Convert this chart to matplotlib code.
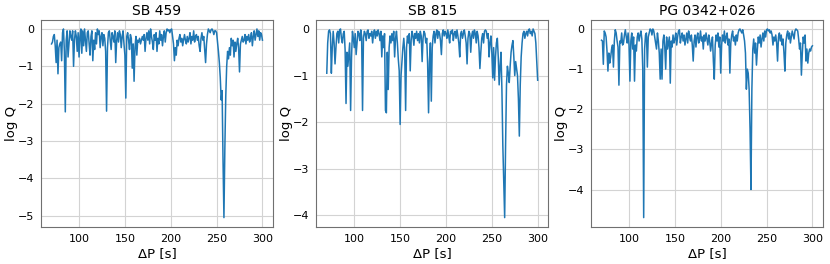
import matplotlib

matplotlib.use("Agg")
import matplotlib.pyplot as plt
from matplotlib.ticker import MultipleLocator
import numpy as np

# period spacing grid (s), one sample per second
delta_p = np.arange(70, 301)

titles = ["SB 459", "SB 815", "PG 0342+026"]

logq_sb459 = [
    -0.40, -0.35, -0.20, -0.15, -0.45, -0.90, -0.30, -1.20, -0.50, -0.40,
    -0.35, -0.85, -0.10, 0.00, -0.60, -2.22, -0.30, -0.05, -0.75, -0.40,
    -0.05, -0.20, -0.30, -0.05, -1.00, -0.30, -0.05, -0.20, -0.60, -0.10,
    -0.75, -0.20, 0.00, -0.65, -0.05, -0.45, 0.00, -0.30, -0.60, -0.10,
    -0.05, -0.40, -0.70, -0.20, -0.05, -0.85, -0.30, -0.55, -0.10, -0.40,
    0.00, -0.15, -0.05, -0.50, -0.20, -0.10, -0.45, -0.15, -0.25, -0.60,
    -2.20, -0.50, -0.10, -0.05, -0.30, -0.55, -0.10, -0.20, -0.35, -0.05,
    -0.90, -0.30, -0.10, -0.35, -0.05, -0.15, -0.50, -0.20, -0.05, -0.40,
    -0.70, -1.85, -0.20, -0.10, -0.30, -0.55, -0.15, -0.25, -1.05, -0.40,
    -1.40, -0.50, -0.20, -0.70, -0.30, -0.35, -0.25, -0.40, -0.30, -0.20,
    -0.30, -0.15, -0.60, -0.25, -0.10, -0.30, -0.05, -0.40, 0.00, -0.20,
    -0.35, -0.55, -0.15, -0.30, -0.10, -0.60, -0.25, -0.40, -0.05, -0.30,
    -0.15, -0.45, -0.20, -0.05, -0.35, -0.10, 0.00, -0.05, -0.02, -0.10,
    -0.02, 0.00, -0.20, -0.40, -0.85, -0.50, -0.70, -0.30, -0.45, -0.25,
    -0.15, -0.35, -0.25, -0.45, -0.30, -0.15, -0.30, -0.40, -0.20, -0.35,
    -0.25, -0.10, -0.40, -0.20, -0.30, -0.05, -0.35, -0.20, -0.15, -0.30,
    -0.20, -0.45, -0.60, -0.25, -0.10, -0.30, -0.20, -0.55, -0.90, -0.40,
    -0.15, 0.00, -0.05, -0.10, -0.02, 0.00, -0.05, -0.15, -0.05, -0.05,
    -0.10, -0.35, -0.60, -0.90, -1.30, -1.90, -1.65, -3.50, -5.05, -3.20,
    -1.80, -1.00, -0.60, -0.80, -0.50, -0.70, -0.25, -0.45, -0.30, -0.75,
    -0.35, -0.60, -0.40, -0.25, -0.50, -1.15, -0.40, -0.30, -0.20, -0.35,
    -0.30, -0.15, -0.40, -0.20, -0.30, -0.15, -0.35, -0.25, -0.10, -0.45,
    -0.20, -0.05, -0.30, -0.15, 0.00, -0.20, -0.05, -0.30, -0.10, -0.15,
    -0.30,
]

logq_sb815 = [
    -0.95, -0.30, -0.05, -0.02, -0.10, -0.95, -0.40, -0.05, -0.30, -0.75,
    -0.40, -0.10, -0.05, -0.30, -0.02, 0.00, -0.20, -0.30, -0.10, -0.05,
    -0.45, -1.60, -0.50, -0.80, -0.55, -0.30, -1.75, -0.60, -0.05, -0.20,
    -0.40, -0.10, -0.55, -0.30, -0.05, -0.10, -0.25, -0.02, -0.15, -1.75,
    -0.20, -0.05, -0.10, -0.25, -0.05, -0.02, -0.20, -0.10, -0.15, -0.05,
    -0.30, -0.10, -0.02, -0.20, -0.05, -0.15, -0.02, -0.10, -0.25, -0.05,
    -0.60, -0.15, -0.40, -0.10, -1.75, -1.80, -0.50, -1.30, -0.40, -0.15,
    -0.30, -0.10, -0.25, -0.05, -0.60, -0.20, -0.05, -0.30, -0.65, -0.90,
    -2.05, -1.00, -0.70, -0.40, -0.20, -0.50, -1.75, -0.40, -0.15, -0.30,
    -0.10, -0.90, -0.25, -0.05, -0.15, -0.35, -0.10, -0.20, -0.05, -0.25,
    -0.10, -0.30, -0.05, -0.15, -0.70, -0.20, -0.05, -0.10, -0.30, -0.20,
    -0.75, -1.80, -0.70, -0.30, -1.55, -0.40, -0.15, -0.05, -0.30, -0.10,
    -0.02, -0.20, -0.05, -0.10, -0.25, -0.55, -0.10, -0.02, -0.15, -0.05,
    -0.10, -0.20, -0.02, -0.15, -0.30, -0.05, -0.10, -0.02, -0.25, -0.10,
    -0.05, -0.20, -0.02, -0.15, -0.30, -0.60, -0.10, -0.05, -0.20, -0.10,
    -0.02, -0.15, -0.30, -0.75, -0.20, -0.05, -0.10, -0.50, -0.15, -0.05,
    -0.20, -0.02, -0.10, -0.30, -0.05, -0.15, -0.40, -0.85, -0.50, -0.20,
    -0.10, -0.30, -0.05, -0.02, -0.05, -0.20, -0.10, -0.60, -0.30, -0.15,
    -0.50, -1.05, -0.40, -1.10, -0.60, -0.30, -0.20, -0.60, -1.20, -0.80,
    -0.50, -1.30, -2.50, -3.30, -4.05, -2.50, -1.20, -0.80, -0.95, -1.15,
    -0.80, -0.50, -0.35, -0.25, -0.60, -1.00, -0.70, -0.85, -1.00, -1.50,
    -2.30, -1.20, -0.60, -0.30, -0.10, -0.05, -0.20, -0.10, -0.05, -0.15,
    -0.02, 0.00, -0.10, -0.05, -0.15, 0.00, -0.05, -0.10, -0.30, -0.70,
    -1.10,
]

logq_pg0342 = [
    -0.28, -0.30, -0.88, -0.05, -0.10, -0.20, -0.55, -1.05, -0.60, -0.85,
    -0.70, -0.50, -0.40, -0.95, -0.30, -0.02, -0.10, -0.30, -0.45, -1.40,
    -0.30, -0.35, -0.10, -0.40, -0.35, -0.15, -0.02, -0.20, -0.35, -0.10,
    -0.40, -1.30, -0.30, -0.10, -0.50, -0.20, -1.30, -0.40, -0.55, -0.20,
    -0.10, -0.30, -0.15, -0.05, -0.25, -1.00, -4.70, -0.50, -0.15, -0.10,
    -0.95, -0.20, -0.10, 0.00, -0.02, -0.15, 0.00, -0.05, -0.20, -0.35,
    -0.50, -0.10, -0.30, -0.60, -1.25, -0.50, -1.25, -0.30, -0.15, -0.45,
    -1.00, -0.20, -0.50, -0.35, -0.20, -1.35, -0.30, -0.45, -0.15, -0.35,
    -0.25, -0.10, -0.40, -0.20, -0.05, -0.02, -0.35, -0.20, -0.10, -0.30,
    -0.15, -0.40, -0.25, -0.10, -0.35, -0.05, -0.20, -0.30, -0.15, -0.40,
    -0.80, -0.30, -0.15, -0.45, -0.20, -0.10, -0.35, -0.25, -0.05, -0.30,
    -0.20, -0.50, -0.15, -0.30, -0.10, -0.25, -0.40, -0.15, -0.30, -0.55,
    -0.35, -0.20, -0.80, -1.25, -0.40, -0.15, -0.30, -0.10, -0.45, -0.20,
    -1.10, -0.40, -0.15, -0.30, -0.05, -0.35, -0.20, -0.10, -0.40, -0.25,
    -1.10, -0.35, -0.15, -0.05, -0.30, -0.20, -0.40, -0.15, -0.30, -0.10,
    -0.02, 0.00, -0.05, -0.10, -0.02, -0.15, -0.30, -0.60, -1.50, -1.00,
    -1.10, -1.50, -2.50, -4.00, -1.50, -0.50, -0.25, -0.60, -0.35, -0.90,
    -0.50, -0.20, -0.35, -0.15, -0.45, -0.25, -0.10, -0.30, -0.05, -0.20,
    -0.02, 0.00, -0.05, -0.02, -0.10, -0.05, -0.15, -0.40, -0.20, -0.30,
    -0.15, -0.35, -0.80, -0.20, -0.10, -0.30, -0.15, -0.40, -0.25, -0.60,
    -1.05, -0.35, -0.15, -0.05, -0.25, -0.10, -0.35, -0.20, -0.05, -0.15,
    -0.25, -0.05, 0.00, -0.02, -0.05, -0.25, -0.50, -0.35, -1.15, -0.60,
    -0.20, -0.35, -0.15, -0.80, -0.50, -0.85, -0.60, -0.50, -0.55, -0.45,
    -0.42,
]

series = [logq_sb459, logq_sb815, logq_pg0342]

fig = plt.figure(figsize=(8.3, 2.64), dpi=100)
lefts = [0.0494, 0.381, 0.712]
width = 0.2795
bottom, height = 0.14, 0.786

for left, title, logq in zip(lefts, titles, series):
    ax = fig.add_axes([left, bottom, width, height])
    ax.plot(delta_p, logq, color="#1f77b4", linewidth=1.1)
    ax.set_title(title, fontsize=10, pad=3)
    ax.set_xlabel("ΔP [s]", fontsize=9.5, labelpad=2)
    ax.set_ylabel("log Q", fontsize=9.5)
    # rotated label: x is its right edge, ~23 px left of the axes
    ax.yaxis.set_label_coords(-0.099, 0.5)
    ax.set_xticks([100, 150, 200, 250, 300])
    ax.yaxis.set_major_locator(MultipleLocator(1))
    ax.grid(True, color="#d3d3d3", linewidth=0.8)
    ax.tick_params(length=0, pad=5, labelsize=8)
    for spine in ax.spines.values():
        spine.set_color("#707070")

fig.savefig("out.png", dpi=100)
